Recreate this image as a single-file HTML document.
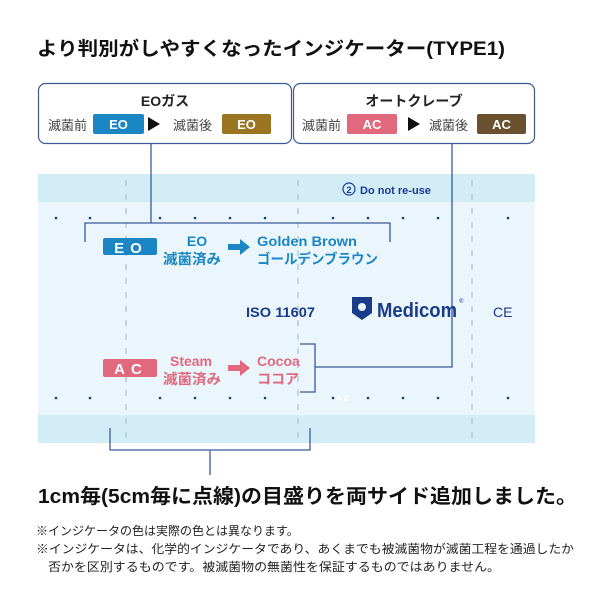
<!DOCTYPE html>
<html><head><meta charset="utf-8"><style>
html,body{margin:0;padding:0;background:#fff;width:600px;height:600px;overflow:hidden}
svg{display:block}
text{font-family:"Liberation Sans","Noto Sans CJK JP",sans-serif}
</style></head><body>
<svg width="600" height="600" viewBox="0 0 600 600" xmlns="http://www.w3.org/2000/svg">
<text x="37" y="55" font-size="19" font-weight="bold" fill="#111" textLength="468" lengthAdjust="spacingAndGlyphs">より判別がしやすくなったインジケーター(TYPE1)</text>

<!-- strip -->
<rect x="38" y="174" width="497" height="269" fill="#eaf6fb"/>
<rect x="38" y="174" width="497" height="28" fill="#d3edf6"/>
<rect x="38" y="415" width="497" height="28" fill="#d3edf6"/>
<g stroke="#9bb" stroke-width="1" stroke-dasharray="6,8">
<line x1="126" y1="180" x2="126" y2="440"/><line x1="298" y1="180" x2="298" y2="440"/><line x1="472" y1="180" x2="472" y2="440"/>
</g>
<g fill="#1a3a7a">
<circle cx="56" cy="218" r="1.3"/><circle cx="90" cy="218" r="1.3"/><circle cx="160" cy="218" r="1.3"/><circle cx="195" cy="218" r="1.3"/><circle cx="230" cy="218" r="1.3"/><circle cx="265" cy="218" r="1.3"/><circle cx="333" cy="218" r="1.3"/><circle cx="368" cy="218" r="1.3"/><circle cx="403" cy="218" r="1.3"/><circle cx="438" cy="218" r="1.3"/><circle cx="508" cy="218" r="1.3"/>
<circle cx="56" cy="398" r="1.3"/><circle cx="90" cy="398" r="1.3"/><circle cx="160" cy="398" r="1.3"/><circle cx="195" cy="398" r="1.3"/><circle cx="230" cy="398" r="1.3"/><circle cx="265" cy="398" r="1.3"/><circle cx="333" cy="398" r="1.3"/><circle cx="368" cy="398" r="1.3"/><circle cx="403" cy="398" r="1.3"/><circle cx="438" cy="398" r="1.3"/><circle cx="508" cy="398" r="1.3"/>
</g>
<circle cx="349" cy="189" r="6" fill="none" stroke="#1a3a9a" stroke-width="1.2"/>
<text x="349" y="193" font-size="9" font-weight="bold" fill="#1a3a9a" text-anchor="middle">2</text>
<text x="360" y="194" font-size="11" font-weight="bold" fill="#1a3a9a">Do not re-use</text>

<!-- top boxes -->
<rect x="38.5" y="83.5" width="253" height="60" rx="7" fill="#fff" stroke="#3a5a9a" stroke-width="1.2"/>
<rect x="293.5" y="83.5" width="241" height="60" rx="7" fill="#fff" stroke="#3a5a9a" stroke-width="1.2"/>
<text x="165" y="106" font-size="14" font-weight="bold" fill="#222" text-anchor="middle">EOガス</text>
<text x="48" y="130" font-size="13" fill="#444">滅菌前</text>
<rect x="93" y="114" width="51" height="20" rx="2" fill="#1a86c4"/>
<text x="118.5" y="129" font-size="13" font-weight="bold" fill="#fff" text-anchor="middle">EO</text>
<path d="M148 117 L160 124 L148 131 Z" fill="#111"/>
<text x="173" y="130" font-size="13" fill="#444">滅菌後</text>
<rect x="222" y="114" width="49" height="20" rx="2" fill="#9a7420"/>
<text x="246.5" y="129" font-size="13" font-weight="bold" fill="#fff" text-anchor="middle">EO</text>

<text x="414" y="106" font-size="14" font-weight="bold" fill="#222" text-anchor="middle">オートクレーブ</text>
<text x="302" y="130" font-size="13" fill="#444">滅菌前</text>
<rect x="347" y="114" width="50" height="20" rx="2" fill="#e2687e"/>
<text x="372" y="129" font-size="13" font-weight="bold" fill="#fff" text-anchor="middle">AC</text>
<path d="M408 117 L420 124 L408 131 Z" fill="#111"/>
<text x="429" y="130" font-size="13" fill="#444">滅菌後</text>
<rect x="477" y="114" width="49" height="20" rx="2" fill="#6a5130"/>
<text x="501.5" y="129" font-size="13" font-weight="bold" fill="#fff" text-anchor="middle">AC</text>

<!-- connectors -->
<g stroke="#3a5a9a" stroke-width="1.3" fill="none">
<path d="M151 143 V223"/>
<path d="M85 242 V223 H390 V242"/>
<path d="M452 143 V367 H315"/>
<path d="M300 344 H315 V392 H300"/>
<path d="M110 428 V450 H310 V428"/>
<path d="M210 450 V475"/>
</g>

<!-- EO row -->
<rect x="103" y="238" width="54" height="17" rx="2" fill="#1a86c4"/>
<text x="131" y="253" font-size="15" font-weight="bold" fill="#fff" text-anchor="middle" letter-spacing="6">EO</text>
<text x="197" y="246" font-size="14" font-weight="bold" fill="#1a86c4" text-anchor="middle">EO</text>
<text x="192" y="264" font-size="14" font-weight="bold" fill="#1a86c4" text-anchor="middle" textLength="58" lengthAdjust="spacingAndGlyphs">滅菌済み</text>
<path d="M228 244 H240 V239 L250 247 L240 255 V250 H228 Z" fill="#1a86c4"/>
<text x="257" y="246" font-size="14" font-weight="bold" fill="#1a86c4" textLength="100" lengthAdjust="spacingAndGlyphs">Golden Brown</text>
<text x="257" y="264" font-size="14" font-weight="bold" fill="#1a86c4" textLength="121" lengthAdjust="spacingAndGlyphs">ゴールデンブラウン</text>

<text x="246" y="317" font-size="14" font-weight="bold" fill="#1a3a8a" textLength="69" lengthAdjust="spacingAndGlyphs">ISO 11607</text>
<path d="M352 297 L372 297 L372 313 L362 320 L352 313 Z" fill="#1a3a8a"/>
<circle cx="362" cy="307" r="4" fill="#eaf6fb"/>
<text x="377" y="317" font-size="20" font-weight="bold" fill="#1a3a8a" textLength="80" lengthAdjust="spacingAndGlyphs">Medicom</text>
<text x="459" y="303" font-size="6" fill="#1a3a8a">®</text>
<text x="493" y="317" font-size="14" fill="#1a3a8a">CE</text>

<!-- AC row -->
<rect x="103" y="359" width="54" height="18" rx="2" fill="#e2687e"/>
<text x="131" y="374" font-size="15" font-weight="bold" fill="#fff" text-anchor="middle" letter-spacing="6">AC</text>
<text x="191" y="366" font-size="14" font-weight="bold" fill="#e2687e" text-anchor="middle">Steam</text>
<text x="192" y="384" font-size="14" font-weight="bold" fill="#e2687e" text-anchor="middle" textLength="58" lengthAdjust="spacingAndGlyphs">滅菌済み</text>
<path d="M228 365 H240 V360 L250 368 L240 376 V371 H228 Z" fill="#e2687e"/>
<text x="257" y="366" font-size="14" font-weight="bold" fill="#e2687e">Cocoa</text>
<text x="257" y="384" font-size="14" font-weight="bold" fill="#e2687e">ココア</text>
<text x="336" y="401" font-size="8" font-weight="bold" fill="#fff">A C</text>

<!-- bottom -->
<text x="38" y="503" font-size="20" font-weight="bold" fill="#111" textLength="539" lengthAdjust="spacingAndGlyphs">1cm毎(5cm毎に点線)の目盛りを両サイド追加しました。</text>
<text x="36" y="535" font-size="12" fill="#222">※インジケータの色は実際の色とは異なります。</text>
<text x="36" y="553" font-size="12" fill="#222" textLength="538" lengthAdjust="spacingAndGlyphs">※インジケータは、化学的インジケータであり、あくまでも被滅菌物が滅菌工程を通過したか</text>
<text x="48" y="571" font-size="12" fill="#222" textLength="452" lengthAdjust="spacingAndGlyphs">否かを区別するものです。被滅菌物の無菌性を保証するものではありません。</text>
</svg>
</body></html>
